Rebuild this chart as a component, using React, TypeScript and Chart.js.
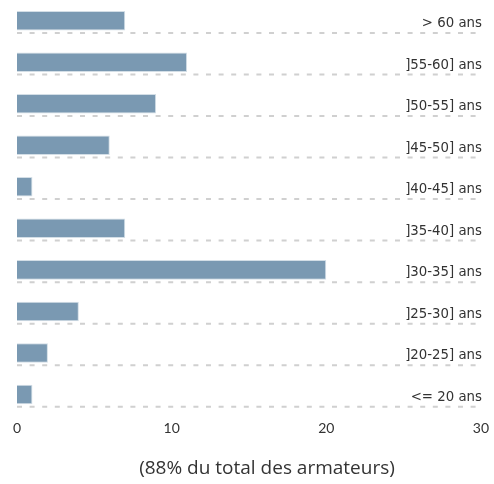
import React, { useEffect, useRef } from "react";
import { Chart, registerables } from "chart.js";

Chart.register(...registerables);

const categories = [
  "> 60 ans",
  "]55-60] ans",
  "]50-55] ans",
  "]45-50] ans",
  "]40-45] ans",
  "]35-40] ans",
  "]30-35] ans",
  "]25-30] ans",
  "]20-25] ans",
  "<= 20 ans",
];
const values = [7, 11, 9, 6, 1, 7, 20, 4, 2, 1];
const xTicks = [0, 10, 20, 30];
const titleText = "(88% du total des armateurs)";

const rowDecor = {
  id: "rowDecor",
  afterDatasetsDraw(chart: any) {
    const { ctx, chartArea, scales } = chart;
    const y = scales.y;
    const meta = chart.getDatasetMeta(0);
    ctx.save();
    categories.forEach((label, i) => {
      const c = y.getPixelForValue(i);
      const bar: any = meta.data[i];
      const half = bar ? bar.height / 2 : 9.5;
      const lineY = c + half + 2.5;
      ctx.setLineDash([5, 7.6]);
      ctx.lineWidth = 2;
      ctx.strokeStyle = "#d0d0d0";
      ctx.beginPath();
      ctx.moveTo(chartArea.left, lineY);
      ctx.lineTo(chartArea.right + 2, lineY);
      ctx.stroke();
      ctx.setLineDash([]);
      ctx.fillStyle = "#333333";
      ctx.font = "13.3px 'DejaVu Sans'";
      ctx.textAlign = "right";
      ctx.textBaseline = "alphabetic";
      ctx.fillText(label, chartArea.right + 1, c + 6.5);
    });
    ctx.fillStyle = "#333333";
    ctx.font = "19px 'Open Sans'";
    ctx.textAlign = "center";
    ctx.textBaseline = "middle";
    ctx.fillText(titleText, chart.width / 2 + 20, 469);
    ctx.restore();
  },
};

export default function App() {
  const ref = useRef<HTMLCanvasElement>(null);
  useEffect(() => {
    document.body.style.margin = "0";
    const chart = new Chart(ref.current!, {
      type: "bar",
      data: {
        labels: categories,
        datasets: [
          {
            data: values,
            backgroundColor: "#7a99b2",
            borderColor: "#d3dee6",
            borderWidth: 1,
            barPercentage: 1,
            categoryPercentage: 0.47,
          },
        ],
      },
      options: {
        indexAxis: "y",
        responsive: false,
        animation: false,
        layout: { padding: { left: 17, right: 11, top: 0, bottom: 42 } },
        plugins: { legend: { display: false }, tooltip: { enabled: false }, title: { display: false } },
        scales: {
          x: {
            min: 0,
            max: 30,
            afterBuildTicks: (s: any) => {
              s.ticks = xTicks.map((v) => ({ value: v }));
            },
            grid: { display: false, drawTicks: false },
            border: { display: false },
            ticks: { color: "#333333", font: { family: "Lato", size: 14 }, padding: 5 },
          },
          y: {
            display: false,
            offset: true,
          },
        },
      },
      plugins: [rowDecor],
    });
    return () => chart.destroy();
  }, []);
  return <canvas ref={ref} width={494} height={484} />;
}
